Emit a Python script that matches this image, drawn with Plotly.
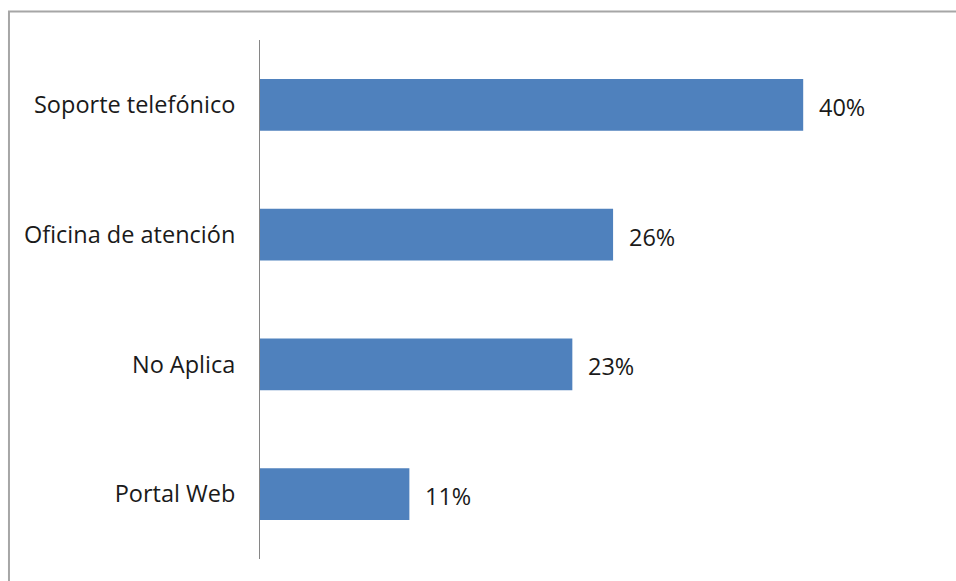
import plotly.graph_objects as go

categories = ["Soporte telefónico", "Oficina de atención", "No Aplica", "Portal Web"]
values = [40, 26, 23, 11]

BAR_COLOR = "#4f81bd"
FONT = "Open Sans"
FONT_SIZE = 23.5
TEXT_COLOR = "#1a1a1a"

fig = go.Figure(
    go.Bar(
        x=values,
        y=categories,
        orientation="h",
        marker=dict(color=BAR_COLOR, line=dict(width=0)),
        hoverinfo="skip",
    )
)

# value labels to the right of each bar
for cat, val in zip(categories, values):
    fig.add_annotation(
        x=val, y=cat, text=f"{val}%", showarrow=False,
        xanchor="left", xshift=14, yshift=-2,
        font=dict(family=FONT, size=FONT_SIZE, color=TEXT_COLOR),
    )

# outer chart frame
fig.add_shape(
    type="rect", xref="paper", yref="paper",
    x0=-0.3697, x1=1.2, y0=-0.2, y1=1.0549,
    line=dict(color="#a6a6a6", width=2), fillcolor="rgba(0,0,0,0)", layer="below",
)

fig.update_layout(
    width=956, height=581,
    margin=dict(l=260, r=17, t=40, b=22),
    paper_bgcolor="white", plot_bgcolor="white",
    bargap=0.6,
    showlegend=False,
    font=dict(family=FONT, size=FONT_SIZE, color=TEXT_COLOR),
    xaxis=dict(range=[0, 50], visible=False, fixedrange=True),
    yaxis=dict(
        categoryorder="array", categoryarray=categories[::-1],
        showline=True, linecolor="#868686", linewidth=1,
        ticks="", showgrid=False, zeroline=False,
        ticklabelstandoff=19, fixedrange=True,
    ),
)

fig.write_html("out.html")
